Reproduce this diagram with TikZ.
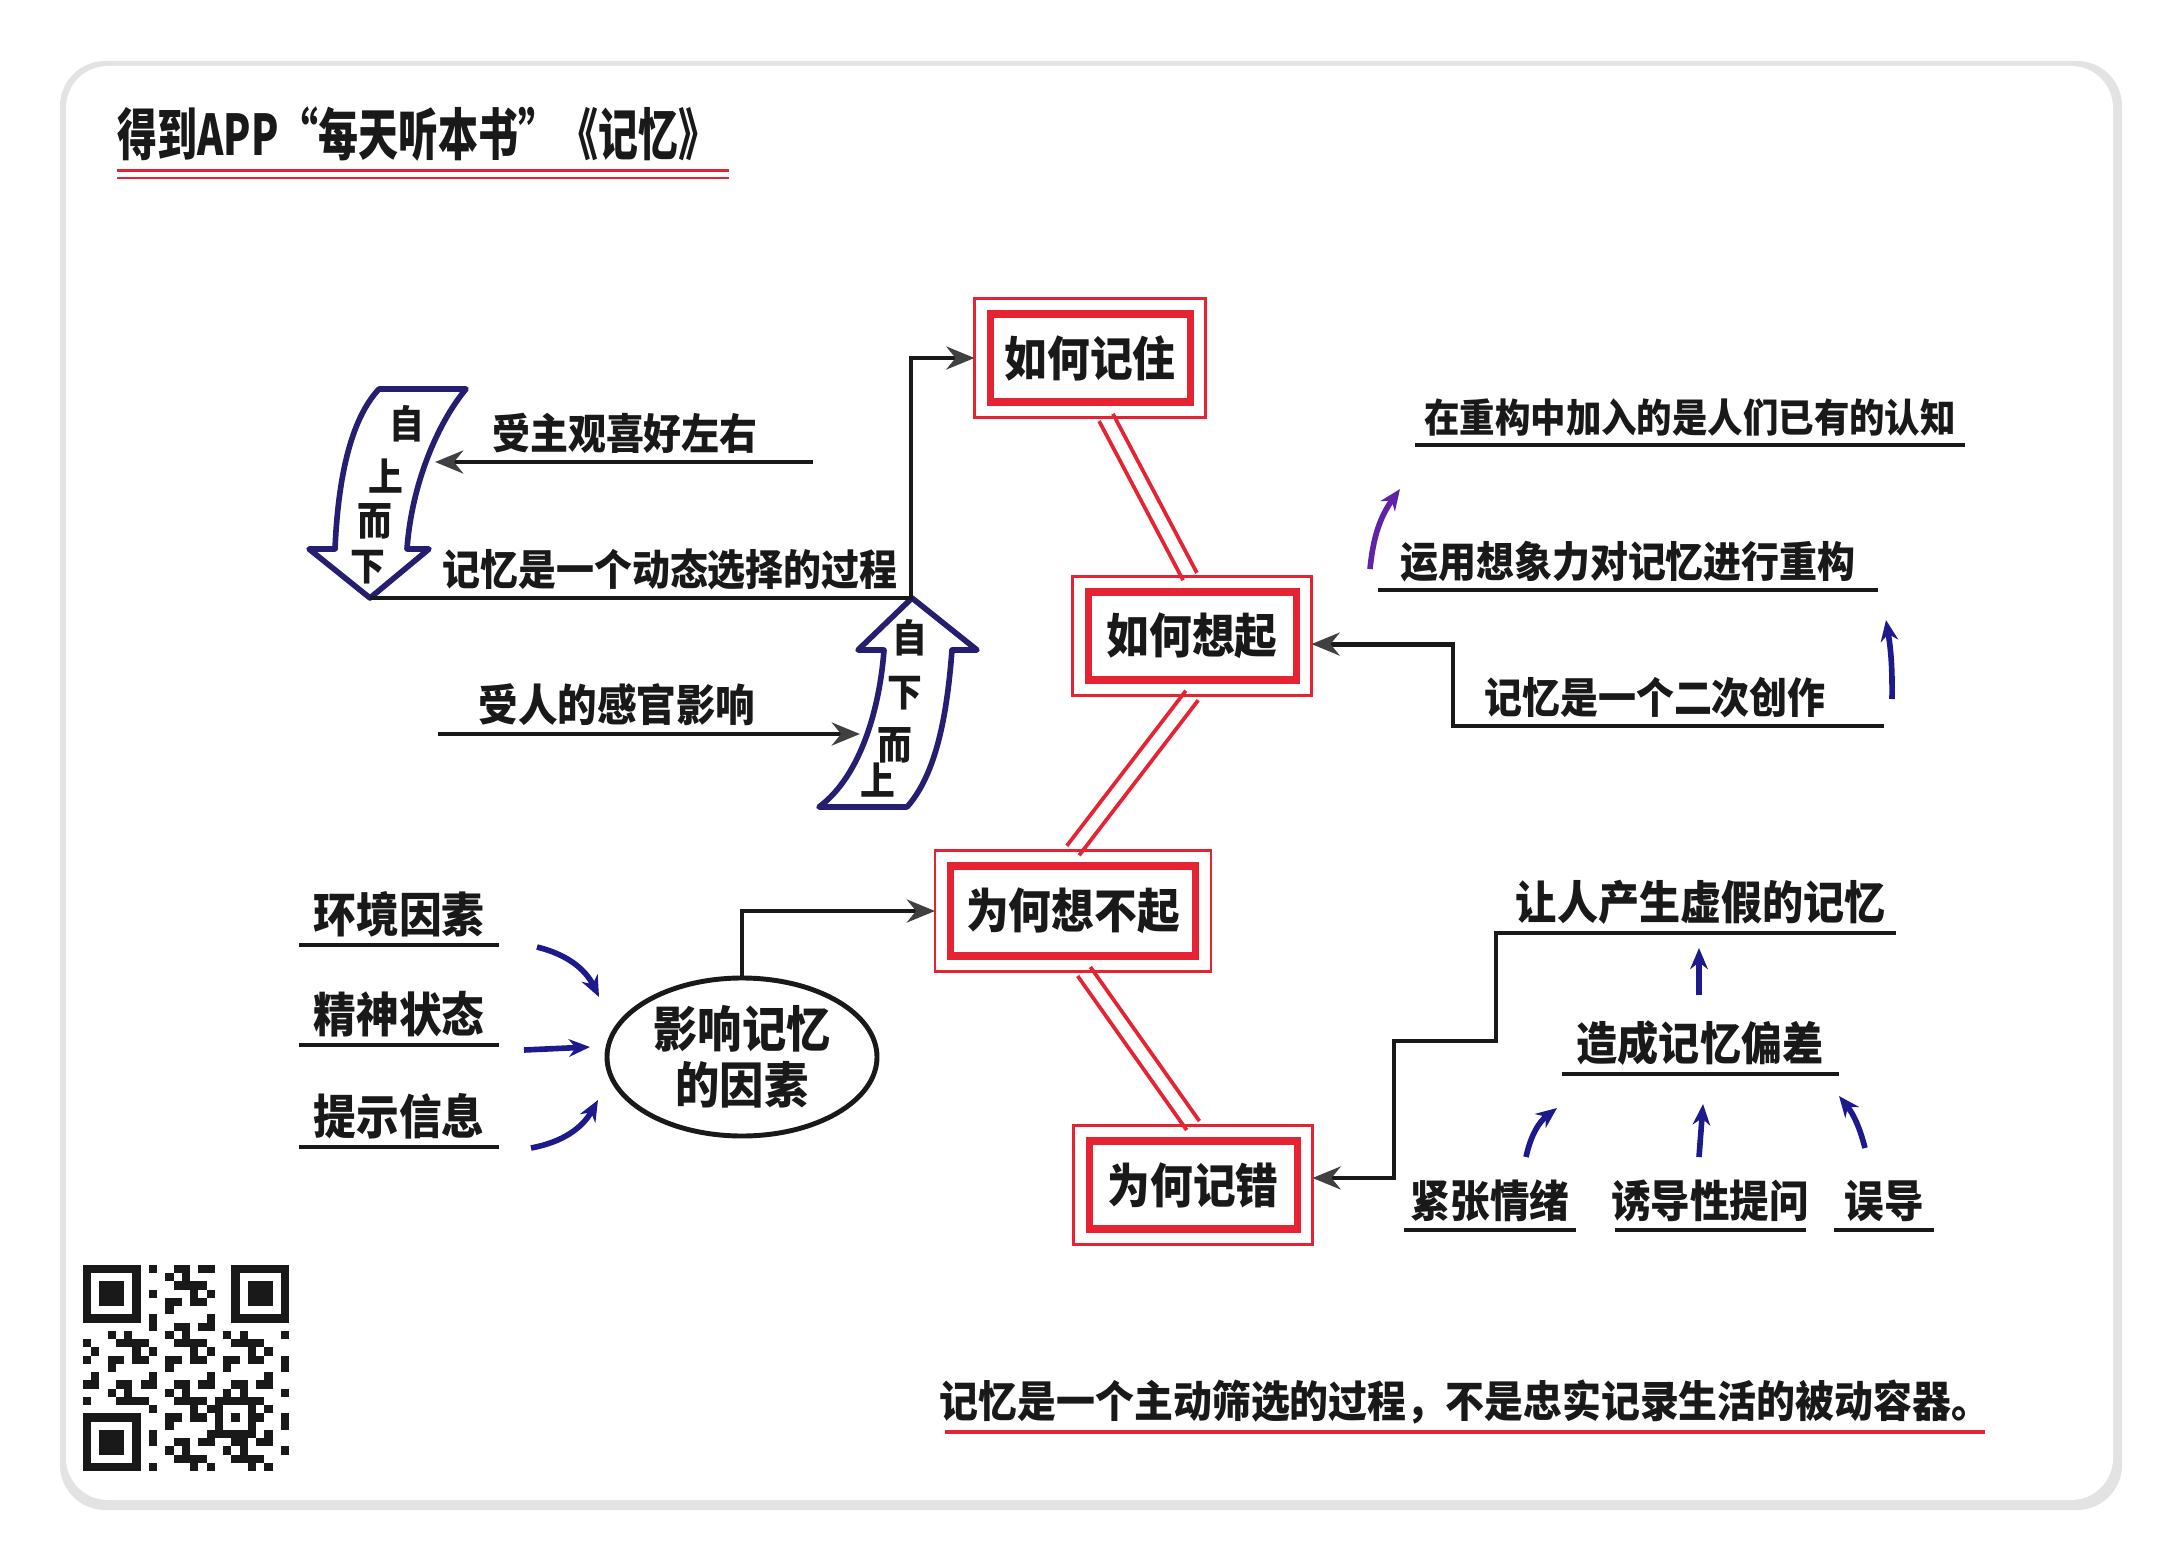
\documentclass[tikz,border=0pt]{standalone}
\usepackage{fontspec}
\newfontfamily\hand[FakeStretch=0.9]{Noto Sans CJK SC}
\newfontfamily\handtitle[FakeStretch=0.71]{Noto Sans CJK SC}
\usetikzlibrary{arrows.meta,shapes.geometric,positioning}
\definecolor{memred}{RGB}{230,35,50}
\definecolor{navy}{RGB}{38,30,112}
\definecolor{inkblue}{RGB}{28,26,140}
\definecolor{violet}{RGB}{95,35,170}
\definecolor{ink}{RGB}{25,25,25}
\newcommand{\fsz}[1]{\fontsize{#1}{#1}\selectfont}
\newcommand{\outerframe}[1]{%
  \draw[memred, line width=0.8pt] ([shift={(-3.4pt,3.4pt)}]#1.north west) rectangle ([shift={(3.4pt,-3.4pt)}]#1.south east)}
\newcommand{\underrule}[2]{%
  \draw[rule] ([xshift=-#2,yshift=-1.1pt]#1.south) -- ([xshift=#2,yshift=-1.1pt]#1.south)}

\begin{document}
\begin{tikzpicture}[x=1cm, y=-1cm,
    topic/.style={draw=memred, line width=2pt, inner sep=2pt, minimum height=0.88cm,
      text=ink, font=\hand\bfseries\fsz{13.5}},
    txt/.style={text=ink, inner sep=1pt, anchor=south, font=\hand\bfseries\fsz{#1}},
    txt/.default=12,
    vtxt/.style={text=ink, inner sep=0pt, font=\hand\bfseries\fsz{11}},
    twin/.style={draw=memred, line width=1.1pt, double=white, double distance=3.3pt},
    link/.style={draw=ink, line width=1.4pt, -{Stealth[length=8pt,width=6.5pt,color=darkgray]}},
    rule/.style={draw=ink, line width=1.1pt},
    nudge/.style={draw=inkblue, line width=1.6pt, -{Stealth[length=6pt,width=5pt]}},
    blockarrow/.style={draw=navy, line width=1.6pt, fill=white, line join=round}]
  \useasboundingbox (0,0) rectangle (21.8,15.68);
  % card
  \fill[gray!22, rounded corners=0.45cm] (0.60,0.61) rectangle (21.22,15.10);
  \fill[white, rounded corners=0.42cm] (0.66,0.66) rectangle (21.13,15.00);

  % title
  \node[font=\handtitle\bfseries\fsz{16}, text=ink, anchor=south west, inner sep=0pt] (title) at (1.17,1.62) {得到APP“每天听本书”《记忆》};
  \draw[memred, line width=0.7pt, double=white, double distance=1.5pt] ([yshift=-3.5pt]title.south west) -- ([xshift=3pt,yshift=-3.5pt]title.south east);

  % main questions
  \node[topic, minimum width=2.0cm] (rem) at (10.90,3.58) {如何记住};
  \node[topic, minimum width=2.08cm] (recall) at (11.92,6.36) {如何想起};
  \node[topic, minimum width=2.45cm, minimum height=0.9cm] (forget) at (10.73,9.11) {为何想不起};
  \node[topic, minimum width=2.08cm] (wrong) at (11.93,11.85) {为何记错};

  \draw[twin] ([xshift=0.16cm,yshift=-3.4pt]rem.south) -- ([xshift=-0.02cm,yshift=3.4pt]recall.north);
  \draw[twin] ([yshift=-3.4pt]recall.south) -- ([yshift=3.4pt]forget.north);
  \draw[twin] ([xshift=0.11cm,yshift=-3.4pt]forget.south) -- ([yshift=3.4pt]wrong.north);
  \foreach \n in {rem,recall,forget,wrong} \outerframe{\n};

  % how to remember
  \draw[blockarrow] (3.79,3.89) -- (4.66,3.89) .. controls (4.40,4.20) and (4.12,4.80) .. (4.07,5.49)
    -- (4.29,5.49) -- (3.70,5.98) -- (3.09,5.49) -- (3.35,5.49)
    .. controls (3.38,4.80) and (3.50,4.20) .. (3.79,3.89) -- cycle;
  \foreach \ch/\x/\y [count=\i] in {自/4.07/4.24, 上/3.86/4.76, 而/3.75/5.21, 下/3.68/5.67}
    \node[vtxt] (down\i) at (\x,\y) {\ch};
  \draw[blockarrow] (9.12,5.98) -- (9.77,6.50) -- (9.52,6.50)
    .. controls (9.48,7.00) and (9.40,7.70) .. (9.07,8.07) -- (8.19,8.07)
    .. controls (8.62,7.75) and (8.80,7.05) .. (8.84,6.50) -- (8.58,6.50) -- cycle;
  \foreach \ch/\x/\y [count=\i] in {自/9.10/6.38, 下/9.05/6.93, 而/8.95/7.45, 上/8.78/7.80}
    \node[vtxt] (up\i) at (\x,\y) {\ch};

  \node[txt] (subj) at (6.25,4.58) {受主观喜好左右};
  \node[txt] (dyn) at (6.70,5.94) {记忆是一个动态选择的过程};
  \node[txt=12.5] (sense) at (6.17,7.30) {受人的感官影响};
  \coordinate (subjstart) at (8.13,4.62);
  \coordinate (subjtip) at (4.35,4.62);
  \coordinate (downtip) at (3.70,5.98);
  \coordinate (turn) at (9.11,5.98);
  \coordinate (sensestart) at (4.38,7.34);
  \coordinate (sensetip) at (8.60,7.34);
  \draw[link] (subjstart) -- (subjtip);
  \draw[link] (downtip) -- (turn) |- ([xshift=-3.4pt]rem.west);
  \draw[link] (sensestart) -- (sensetip);

  % how to recall
  \node[txt=11.2] (cog) at (16.90,4.41) {在重构中加入的是人们已有的认知};
  \node[txt] (imag) at (16.28,5.86) {运用想象力对记忆进行重构};
  \node[txt] (second) at (16.55,7.22) {记忆是一个二次创作};
  \underrule{cog}{2.75cm};
  \underrule{imag}{2.5cm};
  \coordinate (secondend) at (18.84,7.26);
  \coordinate (secondturn) at (14.53,7.26);
  \draw[link] (secondend) -- (secondturn) |- ([xshift=3.4pt,yshift=-2.3pt]recall.east);
  \draw[nudge, draw=violet] (13.70,5.69) to[bend left=15] (14.00,4.89);
  \draw[nudge] (18.92,6.99) to[bend right=5] (18.86,6.20);

  % why forget
  \node[txt=13.5] (env) at (3.99,9.41) {环境因素};
  \node[txt=13.5] (mind) at (3.99,10.41) {精神状态};
  \node[txt=13.5] (cue) at (3.99,11.43) {提示信息};
  \underrule{env}{1.0cm};
  \underrule{mind}{1.0cm};
  \underrule{cue}{1.0cm};
  \node[ellipse, draw=ink, line width=1.4pt, minimum width=2.7cm, minimum height=1.58cm,
    inner sep=0pt, align=center, text=ink, font=\hand\bfseries\fontsize{14}{16}\selectfont]
    (factor) at (7.42,10.57) {影响记忆\\的因素};
  \draw[nudge] (5.37,9.47) to[bend left=25] (5.99,9.97);
  \draw[nudge] (5.24,10.50) -- (5.90,10.47);
  \draw[nudge] (5.31,11.48) to[bend right=25] (5.98,11.00);
  \draw[link] (factor.north) |- ([xshift=-3.4pt]forget.west);

  % why remember wrongly
  \node[txt=13] (fake) at (17.01,9.29) {让人产生虚假的记忆};
  \node[txt=13] (bias) at (17.00,10.70) {造成记忆偏差};
  \node[txt=12.5] (tense) at (14.90,12.26) {紧张情绪};
  \node[txt=12.5] (lead) at (17.10,12.26) {诱导性提问};
  \node[txt=12.5] (mislead) at (18.84,12.26) {误导};
  \underrule{bias}{1.385cm};
  \underrule{tense}{0.86cm};
  \underrule{lead}{0.955cm};
  \underrule{mislead}{0.5cm};
  \coordinate (fakeend) at (18.96,9.33);
  \coordinate (stepA) at (14.96,9.33);
  \coordinate (stepB) at (14.96,10.41);
  \coordinate (stepC) at (13.94,10.41);
  \draw[link] (fakeend) -- (stepA) -- (stepB) -- (stepC) |- ([xshift=3.4pt,yshift=2pt]wrong.east);
  \draw[nudge] (16.99,9.95) -- (16.99,9.48);
  \draw[nudge] (15.26,11.57) to[bend left=20] (15.57,11.08);
  \draw[nudge] (16.99,11.57) -- (17.03,11.04);
  \draw[nudge] (18.65,11.48) to[bend right=12] (18.39,10.96);

  % conclusion
  \node[txt=12.3] (sum) at (14.65,14.28) {记忆是一个主动筛选的过程，不是忠实记录生活的被动容器。};
  \draw[memred, line width=1pt] ([xshift=-5.2cm,yshift=-1.1pt]sum.south) -- ([xshift=5.2cm,yshift=-1.1pt]sum.south);

  % qr code
  \begin{scope}[shift={(0.83,12.65)}, x=0.0824cm, y=-0.0824cm]
    \foreach \row in {0,...,24}
      \foreach \col in {0,...,24}{
        \pgfmathtruncatemacro{\bit}{mod(\row*\row*7+\col*\col*3+\row*\col*5+\row*11+\col*13,7)<3}
        \ifnum\bit=1 \fill[ink] (\col,\row) rectangle ++(1,1); \fi}
    \fill[white] (0,0) rectangle (8,8) (17,0) rectangle (25,8) (0,17) rectangle (8,25);
    \foreach \col/\row in {0/0,18/0,0/18}{
      \fill[ink] (\col,\row) rectangle ++(7,7);
      \fill[white] (\col+1,\row+1) rectangle ++(5,5);
      \fill[ink] (\col+2,\row+2) rectangle ++(3,3);}
    \fill[ink] (16,16) rectangle ++(5,5);
    \fill[white] (17,17) rectangle ++(3,3);
    \fill[ink] (18,18) rectangle ++(1,1);
  \end{scope}
\end{tikzpicture}
\end{document}
